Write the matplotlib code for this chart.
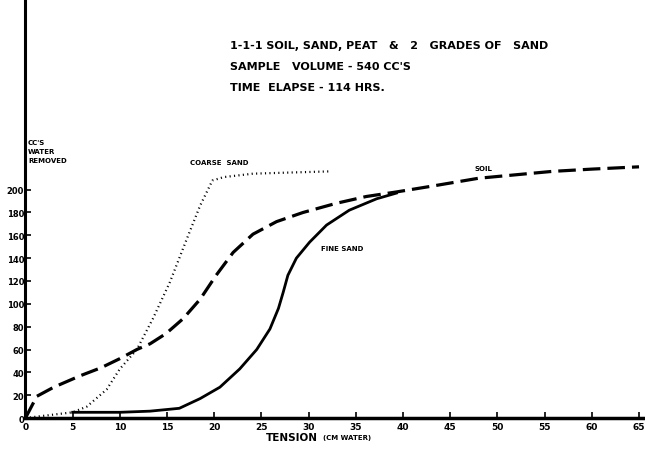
import matplotlib
matplotlib.use("Agg")
import matplotlib.pyplot as plt

# Tension (cm water) vs cc's water removed
coarse_x = [0, 2, 5, 6.5, 8.6, 10, 11.8, 13.5, 15.3, 17.1, 18.5, 19.8, 21, 24.1, 28, 32.2]
coarse_y = [0, 2, 5, 10, 25, 43, 60, 87, 119, 157, 186, 208, 211, 214, 215, 216]

soil_x = [0, 1.2, 3, 5.8, 8, 10, 11.8, 13.2, 14.9, 16.7, 18.5, 20.2, 22, 24.1, 26.6,
          29.4, 32.9, 36.1, 39.3, 43, 48, 55.8, 60, 65]
soil_y = [0, 19, 27, 37, 44, 52, 60, 65, 74, 87, 104, 125, 145, 161, 172,
          180, 188, 194, 198, 203, 210, 216, 218, 220]

fine_x = [5, 10, 13.2, 16.3, 18.5, 20.6, 22.7, 24.5, 25.9, 26.8, 27.3, 27.8, 28.7,
          30.1, 31.9, 34.3, 37.2, 39.3]
fine_y = [5, 5, 6, 8.5, 17, 27, 43, 60, 78, 96, 110, 125, 140,
          154, 169, 182, 192, 197]

x_ticks = list(range(0, 66, 5))
y_ticks = list(range(0, 201, 20))

title_lines = ["1-1-1 SOIL, SAND, PEAT   &   2   GRADES OF   SAND",
               "SAMPLE   VOLUME - 540 CC'S",
               "TIME  ELAPSE - 114 HRS."]


def main():
    fig = plt.figure(figsize=(6.45, 4.52), dpi=100)
    ax = fig.add_axes([0.0395, 0.073, 0.96, 0.927])
    ax.set_xlim(0, 65.6)
    ax.set_ylim(0, 367)

    ax.plot(coarse_x, coarse_y, color="black", lw=1.6, linestyle=(0, (0.5, 1.5)))
    ax.plot(soil_x, soil_y, color="black", lw=2.3, linestyle=(0, (5.5, 2.2)))
    ax.plot(fine_x, fine_y, color="black", lw=2.0)

    for s in ["top", "right"]:
        ax.spines[s].set_visible(False)
    ax.spines["left"].set_linewidth(2.2)
    ax.spines["bottom"].set_linewidth(2.5)

    ax.set_xticks(x_ticks)
    ax.set_xticklabels([str(t) for t in x_ticks], fontsize=6.5, fontweight="bold")
    ax.set_yticks(y_ticks)
    ax.set_yticklabels([str(t) for t in y_ticks], fontsize=6, fontweight="bold")
    ax.tick_params(axis="x", direction="in", length=4, width=1.2, pad=3)
    ax.tick_params(axis="y", direction="in", length=4, width=1.2, pad=1)

    # title block
    for i, line in enumerate(title_lines):
        fig.text(230 / 645, 1 - (46 + i * 21) / 452, line, fontsize=8,
                 fontweight="bold", va="center", ha="left")

    # axis labels
    fig.text(28 / 645, 1 - 140 / 452, "CC'S\nWATER\nREMOVED", fontsize=5,
             fontweight="bold", va="top", ha="left", linespacing=1.6)
    fig.text(266 / 645, 1 - 438 / 452, "TENSION", fontsize=7.5,
             fontweight="bold", va="center", ha="left")
    fig.text(323 / 645, 1 - 438 / 452, "(CM WATER)", fontsize=5,
             fontweight="bold", va="center", ha="left")

    # curve labels
    ax.text(20.5, 222, "COARSE  SAND", fontsize=5, fontweight="bold",
            ha="center", va="bottom")
    ax.text(48.5, 216, "SOIL", fontsize=5, fontweight="bold",
            ha="center", va="bottom")
    ax.text(31.3, 149, "FINE SAND", fontsize=5, fontweight="bold",
            ha="left", va="center")

    fig.savefig("out.png", dpi=100)


if __name__ == "__main__":
    main()
